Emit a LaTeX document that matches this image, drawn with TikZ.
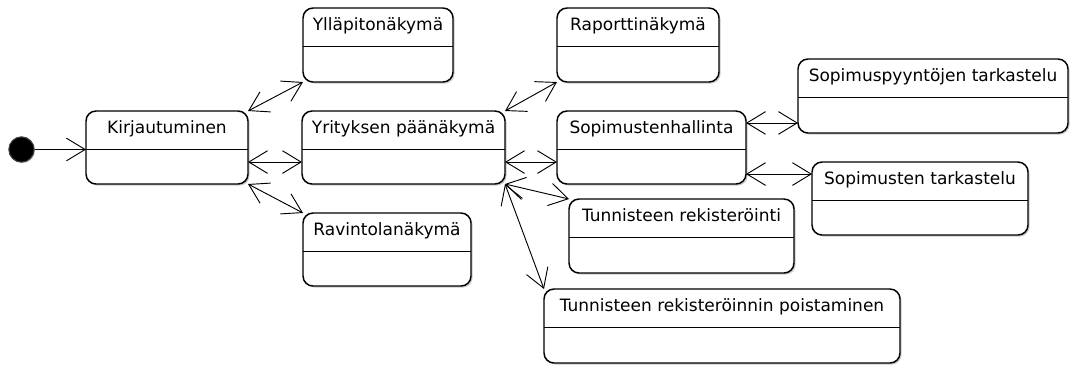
\documentclass[tikz,border=0pt]{standalone}
\usepackage{fontspec}
\setmainfont{DejaVu Sans}
\usetikzlibrary{arrows.meta,shadows,calc}

% one unit = one pixel of the drawing, y grows downwards
\tikzset{
  px/.style={x=0.75pt,y=-0.75pt},
  statebox/.style={draw=black, line width=1.1pt, rounded corners=7.5pt,
    fill=white, inner sep=0pt, outer sep=0pt,
    drop shadow={shadow xshift=1.2pt, shadow yshift=-1.2pt, opacity=0.35, fill=black!60}},
  divider/.style={draw=black, line width=1.1pt},
  statetitle/.style={font=\fontsize{12.75pt}{15pt}\selectfont, inner sep=0pt, anchor=base},
  link/.style={draw=black, line width=0.7pt,
    {Straight Barb[length=14pt,width=17pt]}-{Straight Barb[length=14pt,width=17pt]}},
  linkto/.style={draw=black, line width=0.7pt, -{Straight Barb[length=14pt,width=17pt]}},
}

% \statebox{name}{left}{top}{right}{bottom}{title}
\newcommand\statebox[6]{%
  \pgfmathsetmacro\sbw{(#4-#2)*0.75}%
  \pgfmathsetmacro\sbh{(#5-#3)*0.75}%
  \node[statebox, minimum width=\sbw pt, minimum height=\sbh pt] (#1) at ({(#2+#4)/2},{(#3+#5)/2}) {};
  \draw[divider] ([yshift=-28.9pt]#1.north west) -- ([yshift=-28.9pt]#1.north east);
  \node[statetitle] (#1-t) at ([yshift=-16.9pt]#1.north) {#6};
}

\begin{document}
\begin{tikzpicture}[px]
\useasboundingbox (0,0) rectangle (1070,365);

% initial state
\node[circle, fill=black, draw=black!75, line width=0.8pt, minimum size=19pt, inner sep=0pt,
      drop shadow={shadow xshift=0.8pt, shadow yshift=-0.8pt, opacity=0.3}] (init) at (21.5,149.5) {};

% states
\statebox{kirj}{86}{111}{248}{184}{Kirjautuminen}
\statebox{yllap}{303}{8}{453}{82}{Ylläpitonäkymä}
\statebox{yrit}{302}{111}{505}{184}{Yrityksen päänäkymä}
\statebox{ravint}{303}{213}{471}{286}{Ravintolanäkymä}
\statebox{raport}{557}{8}{719}{82}{Raporttinäkymä}
\statebox{sophall}{557}{111}{746}{184}{Sopimustenhallinta}
\statebox{sopyynt}{798}{59}{1068}{133}{Sopimuspyyntöjen tarkastelu}
\statebox{soptark}{812}{162}{1028}{235}{Sopimusten tarkastelu}
\statebox{tunrek}{569}{199}{794}{273}{Tunnisteen rekisteröinti}
\statebox{tunpois}{544}{289}{900}{363}{Tunnisteen rekisteröinnin poistaminen}

% transitions
\draw[linkto] (init) -- (init -| kirj.west);
\draw[link] (kirj.north east) -- (yllap.south west);
\draw[link] ([yshift=-10.9pt]kirj.east) -- ([yshift=-10.9pt]yrit.west);
\draw[link] (kirj.south east) -- (ravint.north west);
\draw[link] (yrit.north east) -- (raport.south west);
\draw[link] ([yshift=-10.9pt]yrit.east) -- ([yshift=-10.9pt]sophall.west);
\draw[link] (yrit.south east) -- (tunrek.north west);
\draw[link] (yrit.south east) -- (tunpois.north west);
\draw[link] ([yshift=18.4pt]sophall.east) -- ([yshift=18.4pt]sophall.east -| sopyynt.west);
\draw[link] ([yshift=-19.9pt]sophall.east) -- ([yshift=-19.9pt]sophall.east -| soptark.west);
\end{tikzpicture}
\end{document}
